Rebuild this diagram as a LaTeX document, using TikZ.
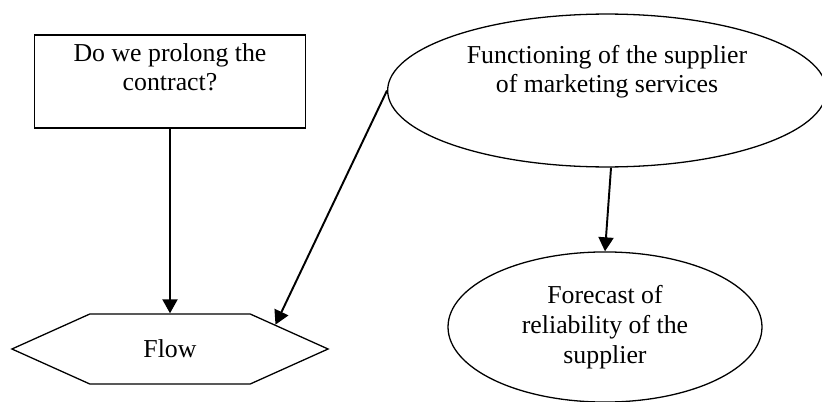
\documentclass[tikz,border=0pt]{standalone}
\usepackage{fontspec}
\setmainfont{Liberation Serif}
\usepackage{tikz}
\usetikzlibrary{
  arrows.meta,
  shapes.geometric,
  shapes.symbols,
  positioning
}
\tikzset{
  fnode/.style={
    draw, line width=0.6pt, font=\fontsize{12}{13.8}\selectfont,
    align=center, inner sep=1pt
  },
  question/.style={fnode, rectangle, minimum width=126pt, minimum height=43.2pt, text depth=13.4pt},
  ovalnode/.style={fnode, ellipse},
  flowhex/.style={fnode, signal, signal to=east and west, signal pointer angle=48.4,
    minimum width=147pt, minimum height=32.6pt},
  link/.style={-{Triangle[length=6.5pt, width=7pt]}, line width=0.9pt}
}

\begin{document}
\begin{tikzpicture}[x=0.465pt, y=-0.465pt]
  \useasboundingbox (0,0) rectangle (822,402);
  \node[question] (prolong) at (170,81.5) {Do we prolong the\\contract?};
  \node[flowhex] (flow) at (170,349) {Flow};
  \node[ovalnode, minimum width=204pt, minimum height=71.1pt, text depth=20pt] (supplier) at (607,90.5) {Functioning of the supplier\\of marketing services};
  \node[ovalnode, minimum width=146pt, minimum height=69.8pt] (forecast) at (605,327) {Forecast of\\reliability of the\\supplier};
  \draw[link] (prolong) -- (flow);
  \draw[link] (supplier.west) -- (flow.13);
  \draw[link] (supplier.-87) -- (forecast.north);
\end{tikzpicture}
\end{document}
